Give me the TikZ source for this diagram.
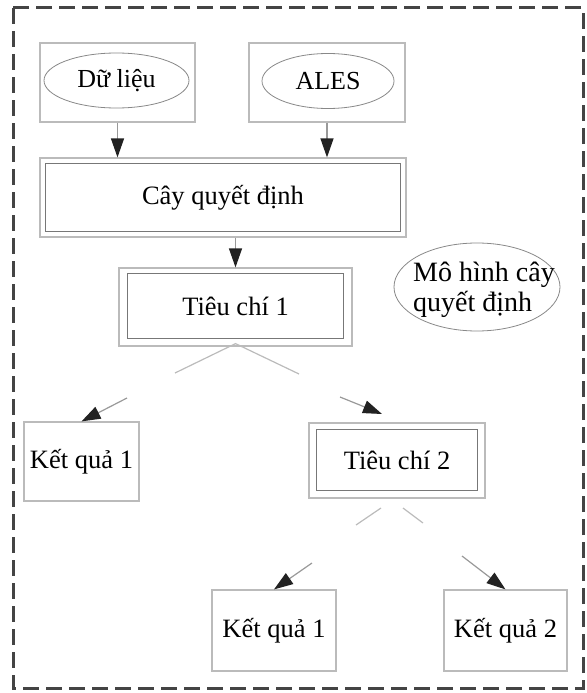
\documentclass[tikz,border=0pt]{standalone}
\usepackage{fontspec}
\setmainfont{Liberation Serif}
\usetikzlibrary{shapes.geometric,arrows.meta}
\definecolor{boxgray}{HTML}{BBBBBB}
\definecolor{innergray}{HTML}{777777}
\definecolor{ellgray}{HTML}{888888}
\definecolor{shaftgray}{HTML}{999999}
\definecolor{seggray}{HTML}{BBBBBB}
\definecolor{borderdark}{HTML}{444444}
\definecolor{tipdark}{HTML}{222222}
\tikzset{
  gbox/.style={draw=boxgray, line width=1.2pt, rectangle, inner sep=0pt},
  ibox/.style={draw=innergray, line width=1.8pt, rectangle, inner sep=0pt,
    font=\fontsize{26.5}{32}\selectfont},
  tbox/.style={draw=boxgray, line width=1.2pt, rectangle, inner sep=0pt,
    font=\fontsize{26.5}{32}\selectfont},
  ell/.style={draw=ellgray, line width=0.8pt, ellipse, inner sep=0pt,
    font=\fontsize{26}{32}\selectfont},
  plaintext/.style={inner sep=0pt, align=left, font=\fontsize{28}{30}\selectfont},
  arr/.style={draw=shaftgray, line width=1.2pt,
    -{Triangle[length=19pt,width=13pt,color=tipdark]}},
  seg/.style={draw=seggray, line width=1.2pt},
  frame/.style={draw=borderdark, line width=3pt, dash pattern=on 16pt off 7pt}
}
\begin{document}
\begin{tikzpicture}[x=1pt,y=-1pt]
\useasboundingbox (0,0) rectangle (586,693);
\draw[frame] (13,8) rectangle (583,688);

% top inputs
\node[gbox, minimum width=155pt, minimum height=79pt] (dlbox) at (117.5,82.5) {};
\node[ell, minimum width=145pt, minimum height=55pt] (dlell) at (116.5,80.5) {Dữ liệu};
\node[gbox, minimum width=156pt, minimum height=79pt] (alesbox) at (327,82.5) {};
\node[ell, minimum width=132pt, minimum height=55pt] (alesell) at (328,81) {ALES};

% decision tree
\node[gbox, minimum width=366pt, minimum height=79pt] (cayo) at (223,197.5) {};
\node[ibox, minimum width=355pt, minimum height=68pt] (cay) at (223,197.5) {Cây quyết định};

% criterion 1
\node[gbox, minimum width=233pt, minimum height=78pt] (tc1o) at (235.5,307) {};
\node[ibox, minimum width=216pt, minimum height=65pt] (tc1) at (235.5,306) {Tiêu chí 1};

% model label
\node[ell, minimum width=166pt, minimum height=88pt] (mh) at (477,287) {};
\node[plaintext] (mht) at (484,290) {Mô hình cây\\quyết định};

% result 1 (left)
\node[tbox, minimum width=115pt, minimum height=79pt] (kq1) at (81.5,461.5) {Kết quả 1};

% criterion 2
\node[gbox, minimum width=176pt, minimum height=75pt] (tc2o) at (397,460.5) {};
\node[ibox, minimum width=161pt, minimum height=61pt] (tc2) at (397,460) {Tiêu chí 2};

% bottom results
\node[tbox, minimum width=124pt, minimum height=81pt] (kq1b) at (274,630.5) {Kết quả 1};
\node[tbox, minimum width=123pt, minimum height=81pt] (kq2) at (505.5,630.5) {Kết quả 2};

% connectors
\draw[arr] (dlbox.south) -- (dlbox.south |- cayo.north);
\draw[arr] (alesbox.south) -- (alesbox.south |- cayo.north);
\draw[arr] (cayo.south -| tc1o.north) -- (tc1o.north);

\coordinate (s1) at (175,373);
\coordinate (s2) at (299,374);
\draw[seg] (s1) -- ([yshift=3pt]tc1o.south) -- (s2);

\coordinate (p1) at (127,398);
\draw[arr] (p1) -- (kq1.north);
\coordinate (p2) at (340,397);
\coordinate (t2) at (382,414);
\draw[arr] (p2) -- (t2);

\coordinate (u1a) at (381,508);
\coordinate (u1b) at (356,525);
\coordinate (u2a) at (403,508);
\coordinate (u2b) at (423,523);
\draw[seg] (u1a) -- (u1b);
\draw[seg] (u2a) -- (u2b);

\coordinate (q1) at (312,563);
\draw[arr] (q1) -- (kq1b.north);
\coordinate (q2) at (462,556);
\draw[arr] (q2) -- (kq2.north);
\end{tikzpicture}
\end{document}
